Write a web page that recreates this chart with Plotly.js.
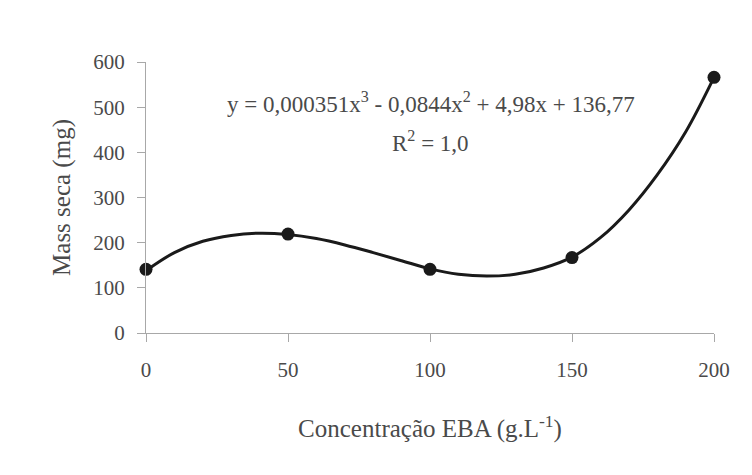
<!DOCTYPE html>
<html>
<head>
<meta charset="utf-8">
<script src="https://cdn.plot.ly/plotly-3.0.1.min.js"></script>
<style>html,body{margin:0;padding:0;background:#fff;}#chart{width:752px;height:475px;}</style>
</head>
<body>
<div id="chart"></div>
<script>
// Observed points
const obsX = [0, 50, 100, 150, 200];
const obsY = [141, 219, 141, 167, 566];
// Fitted curve
const curveX = [0, 10, 20, 30, 40, 50, 60, 70, 80, 90, 100, 110, 120, 130, 140, 150, 160, 170, 180, 190, 200];
const curveY = [138, 178, 203, 216, 221, 218, 209, 195, 178, 160, 142, 130, 126, 130, 144, 168, 211, 272, 350, 445, 566];
const xTicks = [0, 50, 100, 150, 200];
const yTicks = [0, 100, 200, 300, 400, 500, 600];

const fontFam = '"Liberation Serif", "Times New Roman", serif';
const txtColor = '#4a4a4a';

const traces = [
  {x: curveX, y: curveY, mode: 'lines', line: {color: '#1a1a1a', width: 3, shape: 'spline'}, hoverinfo: 'skip', cliponaxis: false},
  {x: obsX, y: obsY, mode: 'markers', marker: {color: '#1a1a1a', size: 13}, cliponaxis: false}
];

const layout = {
  width: 752, height: 475,
  margin: {l: 146, r: 38, t: 62, b: 142},
  paper_bgcolor: '#ffffff', plot_bgcolor: '#ffffff',
  showlegend: false,
  font: {family: fontFam, color: txtColor, size: 21},
  xaxis: {
    range: [0, 200], tickvals: xTicks, ticktext: xTicks.map(String),
    showgrid: false, zeroline: false, showline: true, linecolor: '#a8a8a8', linewidth: 1,
    ticks: 'outside', ticklen: 8, tickcolor: '#a8a8a8', ticklabelstandoff: 10,
    tickfont: {family: fontFam, size: 21, color: txtColor},
    title: {text: 'Concentração EBA (g.L<sup>-1</sup>)', font: {family: fontFam, size: 25, color: txtColor}, standoff: 38}
  },
  yaxis: {
    range: [0, 600], tickvals: yTicks, ticktext: yTicks.map(String),
    showgrid: false, zeroline: false, showline: true, linecolor: '#a8a8a8', linewidth: 1,
    ticks: 'outside', ticklen: 8, tickcolor: '#a8a8a8', ticklabelstandoff: 8,
    tickfont: {family: fontFam, size: 21, color: txtColor},
    title: {text: 'Mass seca (mg)', font: {family: fontFam, size: 25, color: txtColor}, standoff: 15}
  },
  annotations: [
    {xref: 'paper', yref: 'paper', x: 0.502, y: 0.849, xanchor: 'center', yanchor: 'middle', showarrow: false,
     text: 'y = 0,000351x<sup>3</sup> - 0,0844x<sup>2</sup> + 4,98x + 136,77',
     font: {family: fontFam, size: 23, color: txtColor}},
    {xref: 'paper', yref: 'paper', x: 0.5, y: 0.705, xanchor: 'center', yanchor: 'middle', showarrow: false,
     text: 'R<sup>2</sup> = 1,0',
     font: {family: fontFam, size: 23, color: txtColor}}
  ]
};

Plotly.newPlot('chart', traces, layout, {displayModeBar: false, staticPlot: true});
</script>
</body>
</html>
